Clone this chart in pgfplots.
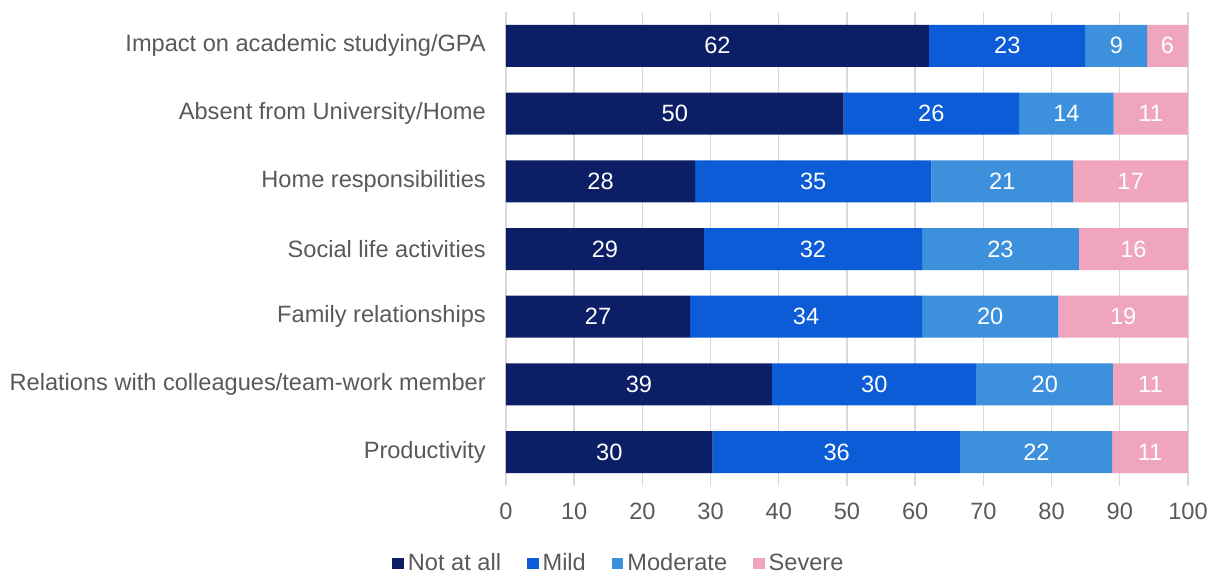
\documentclass[border=0pt]{standalone}
\usepackage{pgfplots}
\pgfplotsset{compat=1.18}
\usepackage{pgfplotstable}
\usepackage{fontspec}
\setmainfont{Liberation Sans}
\definecolor{cNot}{HTML}{0C1F66}
\definecolor{cMild}{HTML}{0B5CD6}
\definecolor{cMod}{HTML}{3D90DC}
\definecolor{cSev}{HTML}{F0A5BF}
\definecolor{txt}{HTML}{595959}
\definecolor{gridc}{HTML}{D9D9D9}

% plotted widths are the shares normalised to 100; labels are the printed values
\pgfplotstableread{
y a b c d la lb lc ld
0 62 23 9 6 62 23 9 6
1 49.50 25.74 13.86 10.89 50 26 14 11
2 27.72 34.65 20.79 16.83 28 35 21 17
3 29 32 23 16 29 32 23 16
4 27 34 20 19 27 34 20 19
5 39 30 20 11 39 30 20 11
6 30.30 36.36 22.22 11.11 30 36 22 11
}\datatable

\pgfplotsset{myaxis/.style={
  scale only axis, width=341bp, height=237bp,
  at={(0,0)}, anchor=south west,
  xmin=0, xmax=100, ymin=-0.5, ymax=6.5, y dir=reverse,
}}

\begin{document}
\begin{tikzpicture}[font=\fontsize{11.8bp}{14bp}\selectfont]
\useasboundingbox (-253bp,-44bp) rectangle (353bp,243bp);
\begin{axis}[myaxis,
  xbar stacked, bar width=21bp,
  axis line style={draw=none},
  major tick length=0pt,
  xtick={0,10,...,100},
  ytick={0,...,6},
  yticklabels={Impact on academic studying/GPA, Absent from University/Home, Home responsibilities, Social life activities, Family relationships, Relations with colleagues/team-work member, Productivity},
  xmajorgrids, grid style={gridc, line width=0.7bp},
  tick label style={text=txt},
  xticklabel style={yshift=-5bp},
  yticklabel style={xshift=-6.6bp},
  /pgf/number format/assume math mode=true,
  legend columns=4,
  legend style={at={(0.167,-0.163)}, anchor=center, draw=none, fill=none,
    text=txt, inner sep=0pt,
    /tikz/every even column/.append style={column sep=11bp}},
]
\addplot[fill=cNot, draw=none, legend image code/.code={\fill[cNot] (-1bp,-2.9bp) rectangle (4.8bp,2.8bp);}] table[x=a, y=y]{\datatable};
\addplot[fill=cMild, draw=none, legend image code/.code={\fill[cMild] (-1bp,-2.9bp) rectangle (4.8bp,2.8bp);}] table[x=b, y=y]{\datatable};
\addplot[fill=cMod, draw=none, legend image code/.code={\fill[cMod] (-1bp,-2.9bp) rectangle (4.8bp,2.8bp);}] table[x=c, y=y]{\datatable};
\addplot[fill=cSev, draw=none, legend image code/.code={\fill[cSev] (-1bp,-2.9bp) rectangle (4.8bp,2.8bp);}] table[x=d, y=y]{\datatable};
\legend{Not at all, Mild, Moderate, Severe}
\end{axis}
\begin{axis}[myaxis, hide axis,
  nodes near coords, point meta=explicit symbolic,
  every node near coord/.append style={anchor=center, text=white, inner sep=0pt},
]
\addplot[draw=none] table[x expr=\thisrow{a}/2, y=y, meta=la]{\datatable};
\addplot[draw=none] table[x expr=\thisrow{a}+\thisrow{b}/2, y=y, meta=lb]{\datatable};
\addplot[draw=none] table[x expr=\thisrow{a}+\thisrow{b}+\thisrow{c}/2, y=y, meta=lc]{\datatable};
\addplot[draw=none] table[x expr=\thisrow{a}+\thisrow{b}+\thisrow{c}+\thisrow{d}/2, y=y, meta=ld]{\datatable};
\end{axis}
\end{tikzpicture}
\end{document}
